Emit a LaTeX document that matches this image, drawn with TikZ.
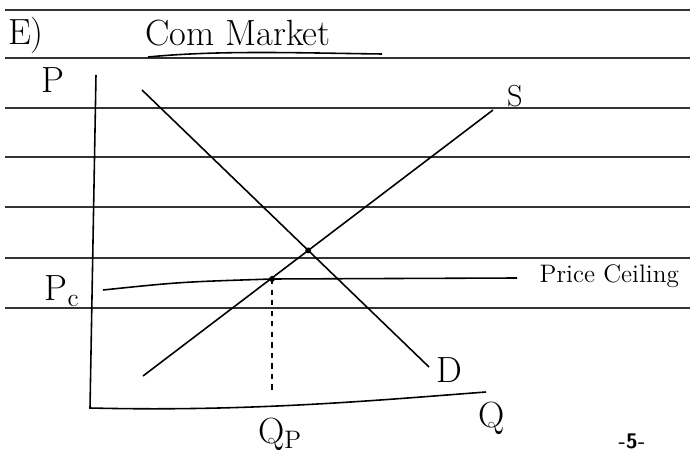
\documentclass[tikz,border=0pt]{standalone}
\usepackage{fontspec}
\begin{document}
\begin{tikzpicture}[x=0.02cm, y=-0.02cm, every node/.style={font=\huge}, line width=0.9pt]
\useasboundingbox (0,0) rectangle (690,452);
% linie zeszytu
\foreach \y in {10, 58, 108, 157, 207, 258, 308}
	\draw[black!80, line width=0.7pt] (5,\y) -- (690,\y);
% tytul
\node (E) at (26,35) {E)};
\node (title) at (238,33) {Com\ Market};
\draw (148,57) .. controls (220,50) and (300,53) .. (382,54);
% osie
\coordinate (top) at (96,75);
\coordinate (orig) at (90,408);
\coordinate (right) at (486,392);
\draw (top) -- (orig) .. controls (250,412) and (380,400) .. (right);
\node (P) at (53,80) {P};
\node (Q) at (492,418) {Q};
% popyt i podaz
\coordinate (d1) at (142,90);
\coordinate (d2) at (429,367);
\coordinate (s1) at (143,376);
\coordinate (s2) at (493,110);
\draw (d1) -- (d2);
\draw (s1) -- (s2);
\node (D) at (449,370) {D};
\node[font=\LARGE] (S) at (515,96) {S};
% cena maksymalna
\coordinate (eq) at (intersection of d1--d2 and s1--s2);
\coordinate (pc) at (272,279);
\coordinate (c1) at (103,290);
\coordinate (c2) at (517,278);
\draw (c1) .. controls (180,282) .. (pc) -- (c2);
\fill (eq) circle (3);
\fill (pc) circle (3);
\node (Pc) at (62,291) {P\textsubscript{c}};
\node[anchor=west, font=\Large] (ceil) at (533,276) {Price Ceiling};
\coordinate (qp) at (272,393);
\draw[dashed] (pc) -- (qp);
\node (Qp) at (280,434) {Q\textsubscript{P}};
\node[font=\sffamily\bfseries\large] (page) at (632,441) {-5-};
\end{tikzpicture}
\end{document}
